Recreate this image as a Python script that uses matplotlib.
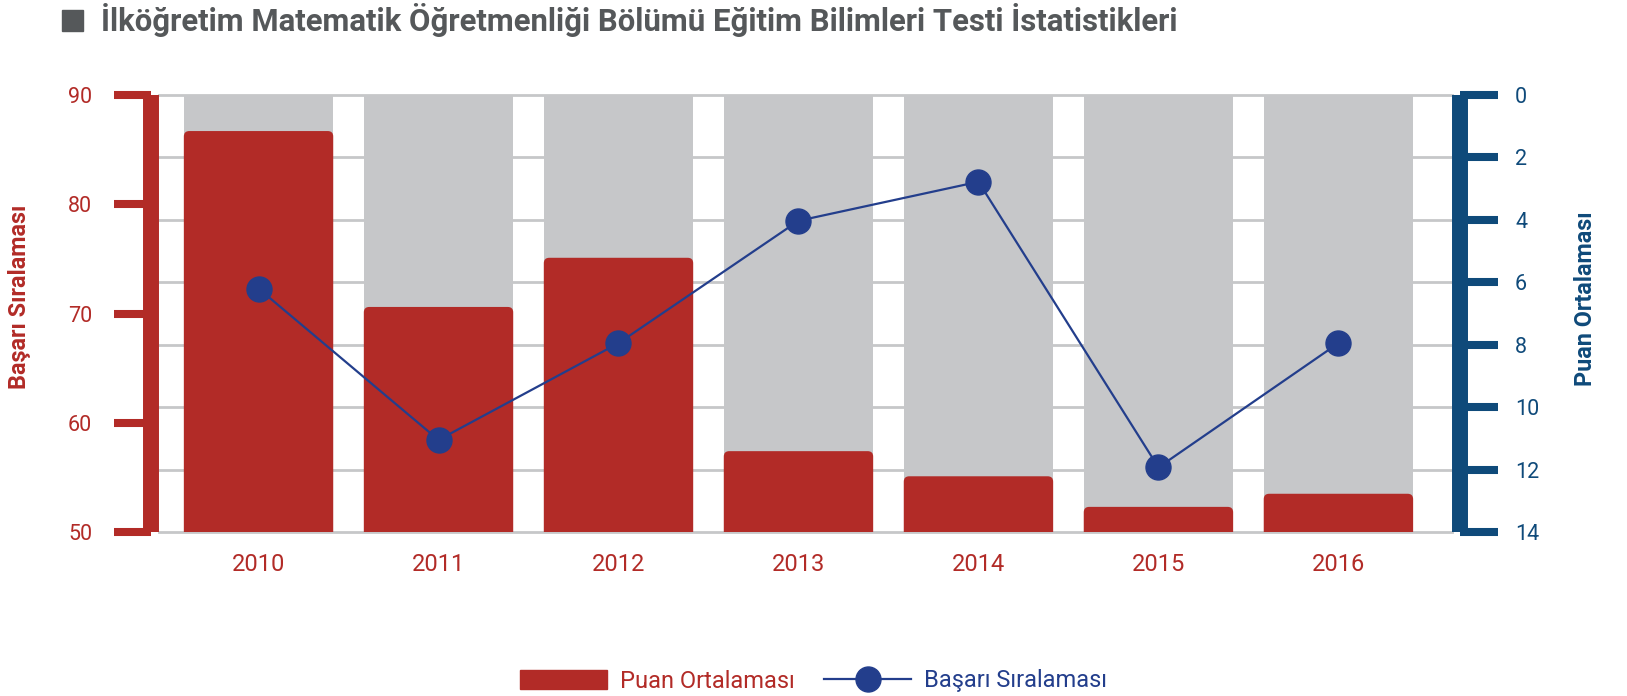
import numpy as np
import matplotlib
matplotlib.use('Agg')
import matplotlib.pyplot as plt
from matplotlib.lines import Line2D
from matplotlib.patches import Patch, Rectangle, FancyBboxPatch

title = 'İlköğretim Matematik Öğretmenliği Bölümü Eğitim Bilimleri Testi İstatistikleri'
years = ['2010', '2011', '2012', '2013', '2014', '2015', '2016']
puan = [86.7, 70.6, 75.1, 57.4, 55.1, 52.3, 53.5]
siralama = [6.2, 11.05, 7.95, 4.03, 2.78, 11.93, 7.95]
left_ticks = [50, 60, 70, 80, 90]
right_ticks = [0, 2, 4, 6, 8, 10, 12, 14]

RED = '#B22B27'
GREY = '#C6C7C9'
NAVY = '#0F4A7A'
LINE = '#233E8C'
TITLE = '#55585A'

plt.rcParams['font.family'] = ['Roboto', 'DejaVu Sans']

W, H = 1627, 696
fig = plt.figure(figsize=(W / 100, H / 100), dpi=100)
ax = fig.add_axes([159 / W, 1 - 532 / H, (1452 - 159) / W, (532 - 95) / H])

x = np.arange(len(years))
lo, hi = left_ticks[0], left_ticks[-1]
ax.set_xlim(-0.553, 6.631)
ax.set_ylim(lo, hi)
ax.bar(x, hi - lo, bottom=lo, width=0.83, color=GREY, zorder=1)
bars = ax.bar(x, np.array(puan) - lo + 1, bottom=lo - 1, width=0.83, color=RED, zorder=2)

# give the red bars slightly rounded tops
aspect = (ax.get_ylim()[1] - ax.get_ylim()[0]) / 437 / ((ax.get_xlim()[1] - ax.get_xlim()[0]) / 1293)
for b in bars:
    b.set_visible(False)
    ax.add_patch(FancyBboxPatch((b.get_x(), b.get_y()), b.get_width(), b.get_height(),
                                boxstyle='round,pad=0,rounding_size=0.03',
                                mutation_aspect=aspect, color=RED, lw=0, zorder=2))

# grid follows the right axis ticks
ax.set_yticks(hi - np.array(right_ticks) * (hi - lo) / right_ticks[-1], minor=True)
ax.grid(which='minor', axis='y', color=GREY, lw=2)
ax.set_axisbelow(True)
ax.tick_params(which='minor', length=0)

ax.set_yticks(left_ticks)
ax.tick_params(axis='y', which='major', direction='out', length=26.6, width=5.8,
               color=RED, labelcolor=RED, labelsize=15.5, pad=15.8)
ax.set_xticks(x, years)
ax.tick_params(axis='x', length=0, pad=15, labelsize=17, labelcolor=RED)

ax.spines['left'].set_position(('outward', 5.8))
ax.spines['left'].set_linewidth(11.5)
ax.spines['left'].set_color(RED)
ax.spines['left'].set_capstyle('butt')
ax.spines['right'].set_visible(False)
for s in ['top', 'bottom']:
    ax.spines[s].set_color(GREY)
    ax.spines[s].set_linewidth(2)
    ax.spines[s].set_zorder(0.6)

ax2 = ax.twinx()
ax2.set_ylim(right_ticks[-1], right_ticks[0])
ax2.set_yticks(right_ticks)
ax2.plot(x, siralama, color=LINE, lw=1.6, marker='o', ms=18, zorder=3, clip_on=False)
for s in ['top', 'bottom', 'left']:
    ax2.spines[s].set_visible(False)
ax2.spines['right'].set_position(('outward', 5.4))
ax2.spines['right'].set_linewidth(11.5)
ax2.spines['right'].set_color(NAVY)
ax2.spines['right'].set_capstyle('butt')
ax2.tick_params(axis='y', direction='out', length=27, width=5.8, color=NAVY,
                labelcolor=NAVY, labelsize=15.5, pad=13)

# title with square bullet
fig.patches.append(Rectangle((62 / W, 1 - 31 / H), 21 / W, 21 / H,
                             transform=fig.transFigure, color=TITLE))
fig.text(101 / W, 1 - 31 / H, title, fontsize=22.4, fontweight='bold',
         color=TITLE, va='baseline')

fig.text(20 / W, 1 - 297 / H, 'Başarı Sıralaması', rotation=90, ha='center', va='center',
         color=RED, fontsize=16.8, fontweight='bold')
fig.text(1586 / W, 1 - 299 / H, 'Puan Ortalaması', rotation=90, ha='center', va='center',
         color=NAVY, fontsize=16.8, fontweight='bold')

handles = [Patch(color=RED, label='Puan Ortalaması'),
           Line2D([], [], color=LINE, lw=1.6, marker='o', ms=18, label='Başarı Sıralaması')]
leg = fig.legend(handles=handles, loc='center', bbox_to_anchor=(0.5, 1 - 681 / H), ncol=2,
                 frameon=False, fontsize=17, handlelength=3.7, handleheight=0.85,
                 handletextpad=0.55, columnspacing=1.23)
leg.get_texts()[0].set_color(RED)
leg.get_texts()[1].set_color(LINE)

fig.savefig('out.png', dpi=100)
